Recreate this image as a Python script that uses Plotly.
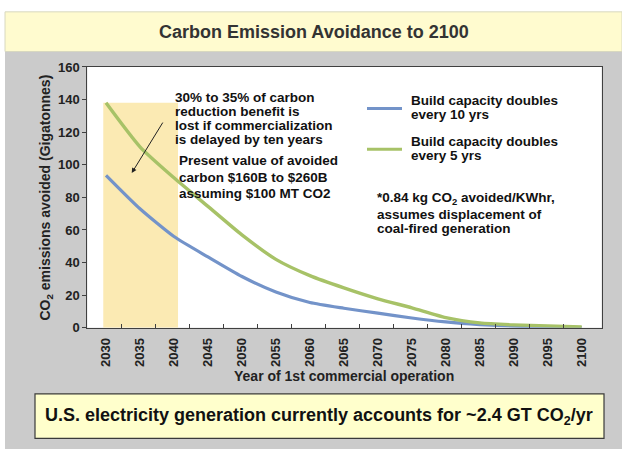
import plotly.graph_objects as go

# ---- data ----
years = [2030, 2035, 2040, 2045, 2050, 2055, 2060, 2065, 2070, 2075, 2080, 2085, 2090, 2095, 2100]
blue_10yr = [93.5, 73, 56, 43.5, 31.5, 22, 15.5, 12, 9, 6, 3.6, 2.0, 1.0, 0.5, 0.2]
green_5yr = [138, 111, 92, 74.5, 57, 42, 32, 24.5, 17.8, 12.3, 6.3, 3.0, 1.8, 1.2, 0.6]
tick_years = list(range(2030, 2101, 5))
tick_labels = [str(y) for y in tick_years]
minor_ticks = [2032.3 + 5 * k for k in range(14)]
y_ticks = list(range(0, 161, 20))
delay_start, delay_end = 2029.6, 2040.6

name_blue = "Build capacity doubles<br>every 10 yrs"
name_green = "Build capacity doubles<br>every 5 yrs"

W, H = 622, 457
FONT = "Liberation Sans, Arial, sans-serif"
BLUE = "#7393c9"
GREEN = "#a7c267"


def px(x):
    return x / W


def py(y):
    return 1 - y / H


PL, PR, PT, PB = 87.3, 601.7, 62, 331.7

fig = go.Figure()
fig.add_trace(go.Scatter(x=years, y=blue_10yr, mode="lines", name=name_blue,
                         line=dict(color=BLUE, width=3.2, shape="spline", smoothing=0.6),
                         showlegend=False, hoverinfo="skip"))
fig.add_trace(go.Scatter(x=years, y=green_5yr, mode="lines", name=name_green,
                         line=dict(color=GREEN, width=3.4, shape="spline", smoothing=0.6),
                         showlegend=False, hoverinfo="skip"))
# invisible trace to carry the secondary (tick-mark) axis
fig.add_trace(go.Scatter(x=[2050], y=[None], xaxis="x2", yaxis="y", mode="lines",
                         showlegend=False, hoverinfo="skip"))

shapes = []
# background panels
shapes.append(dict(type="rect", xref="paper", yref="paper", x0=px(5), x1=px(622), y0=py(457), y1=py(46),
                   fillcolor="#cbcbcb", line=dict(width=0), layer="below"))
shapes.append(dict(type="rect", xref="paper", yref="paper", x0=px(5), x1=px(622), y0=py(46), y1=py(5),
                   fillcolor="#fffbcf", line=dict(color="#d8d8c0", width=1), layer="below"))
shapes.append(dict(type="rect", xref="paper", yref="paper", x0=px(PL), x1=px(PR), y0=py(PB), y1=py(PT),
                   fillcolor="white", line=dict(width=0), layer="below"))
# shaded delay region
shapes.append(dict(type="rect", xref="x", yref="y", x0=delay_start, x1=delay_end, y0=0, y1=green_5yr[0],
                   fillcolor="#fbeab3", line=dict(width=0), layer="below"))
# bottom box
shapes.append(dict(type="rect", xref="paper", yref="paper", x0=px(35), x1=px(604), y0=py(446), y1=py(400),
                   fillcolor="#ffffcc", line=dict(color="#3a3a3a", width=1.2)))
# legend samples
shapes.append(dict(type="line", xref="paper", yref="paper", x0=px(367), x1=px(402), y0=py(105), y1=py(105),
                   line=dict(color=BLUE, width=3)))
shapes.append(dict(type="line", xref="paper", yref="paper", x0=px(367), x1=px(402), y0=py(147), y1=py(147),
                   line=dict(color=GREEN, width=3)))

ann = []


def txt(x, y, s, size=13.5, anchor="left", color="#111", bold=True, angle=0):
    ann.append(dict(x=px(x), y=py(y), xref="paper", yref="paper", text=("<b>%s</b>" % s) if bold else s,
                    showarrow=False, xanchor=anchor, yanchor="middle", textangle=angle, borderpad=0,
                    font=dict(family=FONT, size=size, color=color)))


txt(314, 26, "Carbon Emission Avoidance to 2100", size=18, anchor="center", color="#333")
txt(46, 197, "CO<sub>2</sub> emissions avoided (Gigatonnes)", size=14, anchor="center", color="#222", angle=-90)
txt(344, 382, "Year of 1st commercial operation", size=14, anchor="center", color="#222")
txt(319, 423, "U.S. electricity generation currently accounts for ~2.4 GT CO<sub>2</sub>/yr", size=18,
    anchor="center", color="#111")

for yy, s in zip([94, 108.5, 122.9, 137.4],
                 ["30% to 35% of carbon", "reduction benefit is", "lost if commercialization", "is delayed by ten years"]):
    txt(174, yy, s)
for yy, s in zip([158.3, 176, 192.7],
                 ["Present value of avoided", "carbon $160B to $260B", "assuming $100 MT CO2"]):
    txt(178, yy, s)
for yy, s in zip([97, 111.5], name_blue.split("<br>")):
    txt(410, yy, s)
for yy, s in zip([139, 153.5], name_green.split("<br>")):
    txt(410, yy, s)
for yy, s in zip([198, 214.5, 229],
                 ["*0.84 kg CO<sub>2</sub> avoided/KWhr,", "assumes displacement of", "coal-fired generation"]):
    txt(376, yy, s)

# arrow
ann.append(dict(x=px(131.7), y=py(171.7), xref="paper", yref="paper", text="", showarrow=True,
                ax=32, ay=-52, arrowhead=2, arrowsize=1, arrowwidth=1, arrowcolor="#222"))

xr = [2027.25, 2102.94]
fig.update_layout(
    width=W, height=H,
    margin=dict(l=0, r=0, t=0, b=0, pad=0),
    paper_bgcolor="white", plot_bgcolor="white",
    showlegend=False,
    shapes=shapes, annotations=ann,
    xaxis=dict(domain=[px(PL), px(PR)], range=xr, tickmode="array", tickvals=tick_years,
               ticktext=["<b>%s</b>" % t for t in tick_labels], tickangle=-90, ticks="",
               ticklabelstandoff=4, showgrid=False, zeroline=False, showline=True, linecolor="#404040",
               linewidth=1, mirror=True, tickfont=dict(family=FONT, size=13, color="#222"), fixedrange=True),
    xaxis2=dict(domain=[px(PL), px(PR)], range=xr, overlaying="x", anchor="y", side="bottom",
                tickmode="array", tickvals=minor_ticks, ticks="inside", ticklen=4, tickcolor="#404040",
                showticklabels=False, showgrid=False, zeroline=False, showline=False),
    yaxis=dict(domain=[py(PB), py(PT)], range=[0, 160], tickmode="array", tickvals=y_ticks,
               ticktext=["<b>%d</b>" % v for v in y_ticks], ticks="outside", ticklen=4, tickcolor="#404040",
               showgrid=False, zeroline=False, showline=True, linecolor="#404040", linewidth=1, mirror=True,
               tickfont=dict(family=FONT, size=13, color="#222"), fixedrange=True),
)

fig.write_html("out.html", config={"displayModeBar": False},
               post_script="document.body.style.margin='0';document.body.style.padding='0';"
                           "document.documentElement.style.overflow='hidden';")
